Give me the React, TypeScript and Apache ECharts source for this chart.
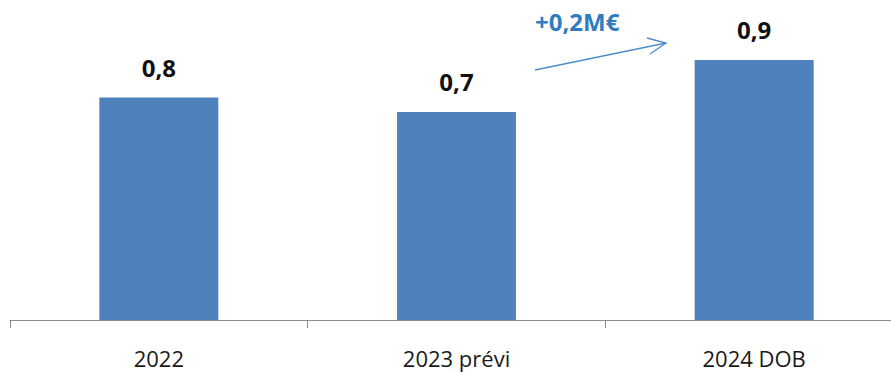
import React, { useEffect, useRef } from "react";
import * as echarts from "echarts";

const categories = ["2022", "2023 prévi", "2024 DOB"];
const values = [0.77, 0.72, 0.9];
const annotationText = "+0,2M€";

export default function App() {
  const ref = useRef<HTMLDivElement>(null);
  useEffect(() => {
    if (!ref.current) return;
    const chart = echarts.init(ref.current, null, { renderer: "svg" });
    chart.setOption({
      animation: false,
      backgroundColor: "#ffffff",
      grid: { left: 10, top: 31, right: 0, bottom: 53, containLabel: false },
      xAxis: {
        type: "category",
        data: categories,
        axisLine: { lineStyle: { color: "#8c8c8c", width: 1 } },
        axisTick: { show: true, length: 8, lineStyle: { color: "#8c8c8c" } },
        axisLabel: {
          color: "#1a1a1a",
          fontFamily: "Open Sans",
          fontSize: 22,
          margin: 27,
        },
      },
      yAxis: { type: "value", min: 0, max: 1, show: false, splitLine: { show: false } },
      series: [
        {
          type: "bar",
          data: values,
          barWidth: 119,
          itemStyle: { color: "#4f81bd" },
          label: {
            show: true,
            position: "top",
            distance: 18,
            fontFamily: "Open Sans",
            fontWeight: "bold",
            fontSize: 24,
            color: "#111111",
            formatter: (p: any) => p.value.toFixed(1).replace(".", ","),
          },
        },
      ],
      graphic: [
        {
          type: "text",
          left: 535,
          top: 9,
          style: {
            text: annotationText,
            fill: "#2f7cc0",
            font: "bold 24px 'Open Sans'",
          },
        },
        {
          type: "line",
          shape: { x1: 535, y1: 70, x2: 666, y2: 43 },
          style: { stroke: "#4f8cc9", lineWidth: 1.3 },
        },
        {
          type: "polyline",
          shape: { points: [[647, 38], [666, 43], [650, 54]] },
          style: { stroke: "#4f8cc9", lineWidth: 1.3, fill: "none" },
        },
      ],
    });
    return () => chart.dispose();
  }, []);
  return (
    <div
      style={{
        position: "absolute",
        left: 0,
        top: 0,
        width: 891,
        height: 373,
        overflow: "hidden",
      }}
    >
      <div ref={ref} style={{ width: 903, height: 373 }} />
    </div>
  );
}
